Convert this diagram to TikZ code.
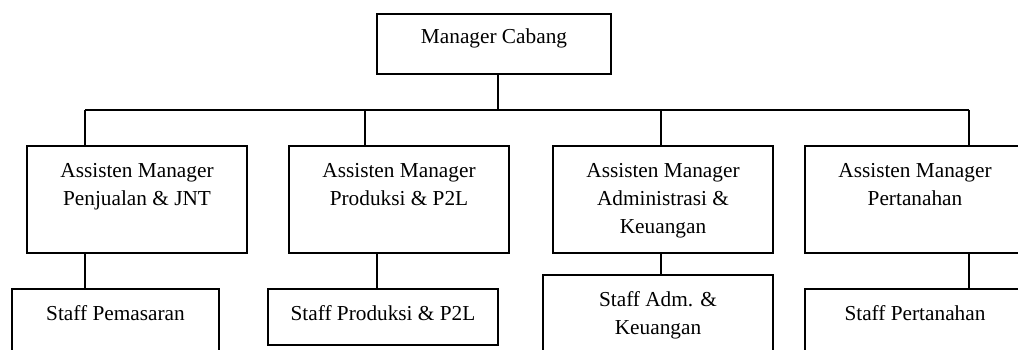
\documentclass[tikz,border=0pt]{standalone}
\usepackage{fontspec}
\setmainfont{Liberation Serif}
\begin{document}
\begin{tikzpicture}[x=1pt,y=-1pt,
  box/.style={draw, line width=2pt, inner sep=0pt, minimum width=#1},
  box/.default=220pt,
  lbl/.style={inner sep=0pt, align=center, anchor=north, font=\fontsize{21.3}{28}\selectfont},
  conn/.style={line width=2pt}]
\useasboundingbox (0,0) rectangle (1018,350);
\clip (0,0) rectangle (1018,350);
% boxes
\node[box=234pt, minimum height=60pt] (mc) at (494,44) {};
\node[box, minimum height=107pt] (a1) at (137,199.5) {};
\node[box, minimum height=107pt] (a2) at (399,199.5) {};
\node[box, minimum height=107pt] (a3) at (663,199.5) {};
\node[box, minimum height=107pt] (a4) at (915,199.5) {};
\node[box=207pt, minimum height=67pt] (s1) at (115.5,322.5) {};
\node[box=230pt, minimum height=56pt] (s2) at (383,317) {};
\node[box=230pt, minimum height=85pt] (s3) at (658,317.5) {};
\node[box=220pt, minimum height=71pt] (s4) at (915,324.5) {};
% texts
\node[lbl] (tmc) at ([yshift=-11pt]mc.north) {\strut Manager Cabang};
\node[lbl] (ta1) at ([yshift=-13pt]a1.north) {\strut Assisten Manager\\Penjualan \& JNT};
\node[lbl] (ta2) at ([yshift=-13pt]a2.north) {\strut Assisten Manager\\Produksi \& P2L};
\node[lbl] (ta3) at ([yshift=-13pt]a3.north) {\strut Assisten Manager\\Administrasi \&\\Keuangan};
\node[lbl] (ta4) at ([yshift=-13pt]a4.north) {\strut Assisten Manager\\Pertanahan};
\node[lbl] (ts1) at ([yshift=-12.5pt]s1.north) {\strut Staff Pemasaran};
\node[lbl] (ts2) at ([yshift=-12.5pt]s2.north) {\strut Staff Produksi \& P2L};
\node[lbl] (ts3) at ([yshift=-12.5pt]s3.north) {\strut Staff Adm. \&\\Keuangan};
\node[lbl] (ts4) at ([yshift=-12.5pt]s4.north) {\strut Staff Pertanahan};
% bus
\coordinate (d1) at (85,110);
\coordinate (d2) at (365,110);
\coordinate (d3) at (661,110);
\coordinate (d4) at (969,110);
\draw[conn] (d1) -- (d4);
\draw[conn] ([xshift=4pt]mc.south) -- ([xshift=4pt]mc.south |- d1);
\draw[conn] (d1) -- (d1 |- a1.north);
\draw[conn] (d2) -- (d2 |- a2.north);
\draw[conn] (d3) -- (d3 |- a3.north);
\draw[conn] (d4) -- (d4 |- a4.north);
% lower drops
\draw[conn] (d1 |- a1.south) -- (d1 |- s1.north);
\draw[conn] ([xshift=-22pt]a2.south) -- ([xshift=-22pt]a2.south |- s2.north);
\draw[conn] (d3 |- a3.south) -- (d3 |- s3.north);
\draw[conn] (d4 |- a4.south) -- (d4 |- s4.north);
\end{tikzpicture}
\end{document}
